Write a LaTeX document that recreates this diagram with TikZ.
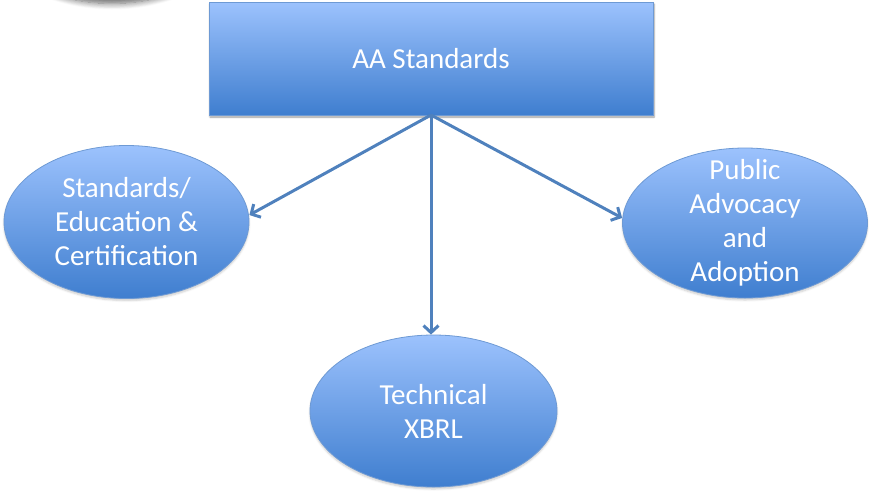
\documentclass[tikz,border=0pt]{standalone}
\usepackage{fontspec}
\setmainfont{Carlito}
\usetikzlibrary{shapes.geometric,arrows.meta,shadows.blur}
\definecolor{topblue}{HTML}{9CC2FD}
\definecolor{botblue}{HTML}{3F7ECF}
\definecolor{edgeblue}{HTML}{6E9AD4}
\definecolor{arrowblue}{HTML}{4F81BD}
\tikzset{
  boxfill/.style={top color=topblue, bottom color=botblue, draw=edgeblue, line width=0.8pt},
  bigtext/.style={text=white, align=center, font=\fontsize{29}{34}\selectfont, inner sep=0pt},
  topbox/.style={boxfill, rectangle, minimum width=444pt, minimum height=113pt, inner sep=0pt,
    blur shadow={shadow xshift=1pt, shadow yshift=-2pt, shadow blur steps=6, shadow opacity=40},
    bigtext},
  bubble/.style={boxfill, ellipse, inner sep=0pt,
    blur shadow={shadow xshift=0pt, shadow yshift=-2pt, shadow blur steps=5, shadow opacity=20}},
  link/.style={draw=arrowblue, line width=3pt, -{Straight Barb[length=7pt,width=15pt,line width=3pt]}}
}
\begin{document}
\begin{tikzpicture}[x=1pt,y=-1pt]
\useasboundingbox (0,0) rectangle (869,491);
\begin{scope}
\clip (0,0) rectangle (869,491);
\path[boxfill, blur shadow={shadow xshift=0pt, shadow yshift=-4pt, shadow blur radius=6pt, shadow blur steps=8, shadow opacity=60}]
  (112,-80.5) ellipse [x radius=125, y radius=80];
\end{scope}
\node[topbox] (aa) at (431,58.5) {AA Standards};
\node[bubble, minimum width=245pt, minimum height=153pt] (sec) at (126.5,222) {};
\node[bigtext] (sect) at (sec) {Standards/\\Education \&\\Certification};
\node[bubble, minimum width=245pt, minimum height=150pt] (pub) at (745,223) {};
\node[bigtext] (pubt) at (pub) {Public\\Advocacy\\and\\Adoption};
\node[bubble, minimum width=247pt, minimum height=152pt] (tech) at (433.5,411) {};
\node[bigtext] (techt) at (tech) {Technical\\XBRL};
\coordinate (hub) at (431,115);
\draw[link] (hub) -- (sec.east |- 0,215);
\draw[link] (hub) -- (pub.west |- 0,218);
\draw[link] (hub) -- (tech.north -| hub);
\end{tikzpicture}
\end{document}
